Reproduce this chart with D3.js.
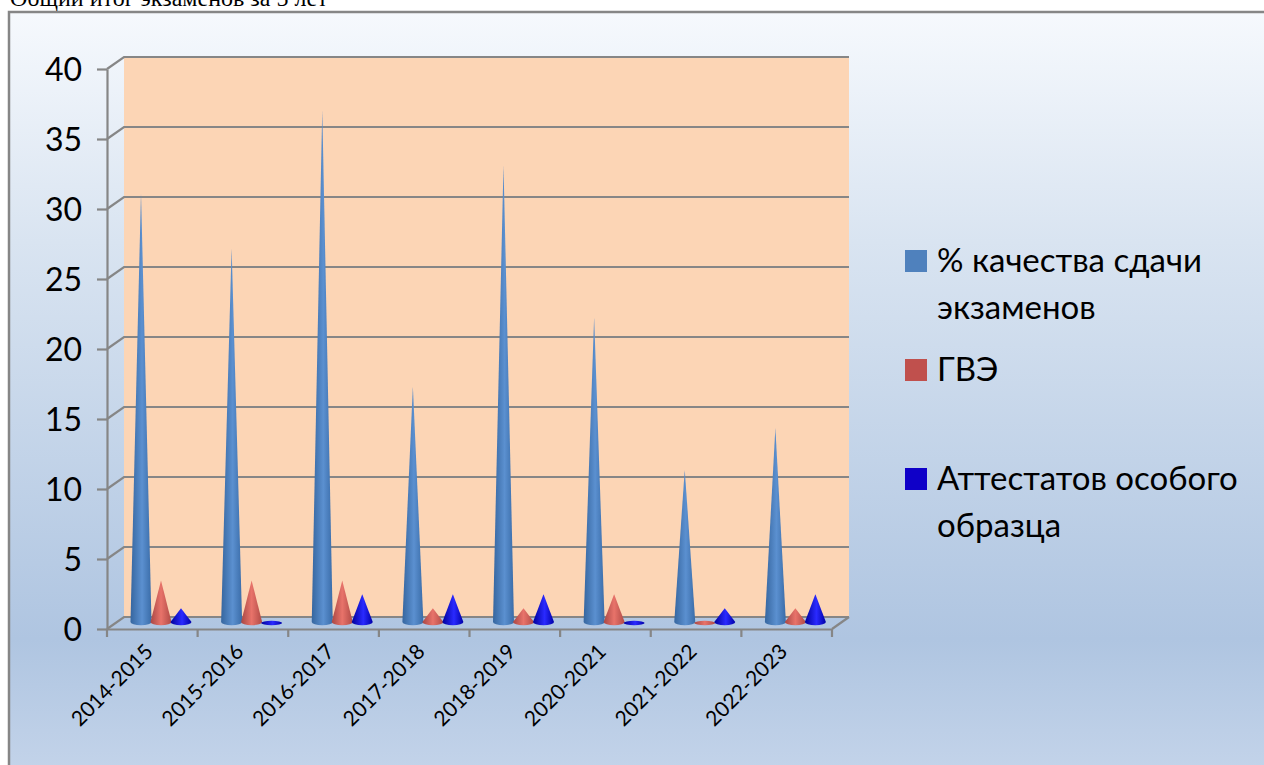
<!DOCTYPE html>
<html>
<head>
<meta charset="utf-8">
<script src="https://cdn.jsdelivr.net/npm/d3@7"></script>
<style>
	html, body { margin: 0; padding: 0; background: #fff; overflow: hidden; }
	.label { font-family: Lato, "Open Sans", sans-serif; fill: #000; }
</style>
</head>
<body>
<div id="root"></div>
<script>
const years = ["2014-2015", "2015-2016", "2016-2017", "2017-2018", "2018-2019", "2020-2021", "2021-2022", "2022-2023"];
const seriesNames = ["quality", "gve", "cert"];
const quality = [31, 27, 37, 17, 33, 22, 11, 14];
const gve = [3, 3, 3, 1, 1, 2, 0, 1];
const cert = [1, 0, 2, 2, 2, 0, 1, 2];
const legendLabels = [["% качества сдачи", "экзаменов"], ["ГВЭ"], ["Аттестатов особого", "образца"]];
const legendColors = ["#4f81bd", "#c0504d", "#0f00c8"];
const valueTicks = [0, 5, 10, 15, 20, 25, 30, 35, 40];
const titleText = "Общий итог экзаменов за 5 лет";

const width = 1264, height = 765;
const depthX = 17, depthY = 12;

const svg = d3.select("#root").append("svg")
	.attr("width", width)
	.attr("height", height);

const defs = svg.append("defs");

const addGradient = (id, vertical, stops) => {
	const g = defs.append("linearGradient")
		.attr("id", id)
		.attr("x1", 0).attr("y1", 0)
		.attr("x2", vertical ? 0 : 1).attr("y2", vertical ? 1 : 0);
	stops.forEach(s => g.append("stop").attr("offset", s[0]).attr("stop-color", s[1]));
};

addGradient("bg", true, [[0, "#f6f9fd"], [0.3, "#d9e4f1"], [0.82, "#afc5e1"], [1, "#c4d4ea"]]);
addGradient("cone-quality", false, [[0, "#36669f"], [0.55, "#5b90d0"], [1, "#3a6ca8"]]);
addGradient("cone-gve", false, [[0, "#a84744"], [0.5, "#e8736a"], [1, "#b04a46"]]);
addGradient("cone-cert", false, [[0, "#00009a"], [0.55, "#2a2aff"], [1, "#0000a8"]]);

const x = d3.scaleBand().domain(years).range([107, 832]);
const xInner = d3.scaleBand().domain(seriesNames).range([24, 84]);
const y = d3.scaleLinear().domain([0, 40]).range([629, 69]);
const yCone = d3.scaleLinear().domain([0, 40]).range([622, 68]);

// chart frame
svg.append("rect")
	.attr("x", 9).attr("y", 12)
	.attr("width", width).attr("height", height)
	.attr("fill", "url(#bg)")
	.attr("stroke", "#868686")
	.attr("stroke-width", 2.5);

svg.append("text")
	.attr("x", 10).attr("y", 6)
	.attr("font-family", "Liberation Serif")
	.attr("font-size", 24)
	.text(titleText);

// back wall
svg.append("rect")
	.attr("x", 107 + depthX).attr("y", y(40) - depthY)
	.attr("width", 832 - 107)
	.attr("height", y(0) - y(40))
	.attr("fill", "#fcd5b5");

// gridlines on wall and side
const grid = svg.append("g")
	.attr("fill", "none")
	.attr("stroke", "#868686")
	.attr("stroke-width", 2.2);

grid.selectAll("path")
	.data(valueTicks)
	.enter()
	.append("path")
		.attr("d", d => `M${x.range()[0]},${y(d)}L${x.range()[0] + depthX},${y(d) - depthY}H${x.range()[1] + depthX}`);

grid.append("path")
	.attr("d", `M${x.range()[1]},${y(0)}L${x.range()[1] + depthX},${y(0) - depthY}`);

// axes
const yAxis = svg.append("g")
	.attr("transform", "translate(107,0)")
	.call(d3.axisLeft(y).tickValues(valueTicks).tickSize(10).tickSizeOuter(0).tickPadding(15));

const xAxis = svg.append("g")
	.attr("transform", `translate(0,${y(0)})`)
	.call(d3.axisBottom(x).tickSize(0).tickFormat(""));

xAxis.selectAll(".tick").remove();

xAxis.selectAll(".edge")
	.data(years.concat("end"))
	.enter()
	.append("line")
		.attr("class", "edge")
		.attr("x1", (d, i) => x.range()[0] + i * x.step())
		.attr("x2", (d, i) => x.range()[0] + i * x.step())
		.attr("y1", 0)
		.attr("y2", 8);

svg.selectAll(".domain, .tick line, .edge")
	.attr("stroke", "#868686")
	.attr("stroke-width", 2.2);

yAxis.selectAll("text")
	.attr("class", "label")
	.attr("font-size", 32)
	.attr("dy", "0.36em");

// category labels
svg.selectAll(".year")
	.data(years)
	.enter()
	.append("text")
		.attr("class", "label year")
		.attr("font-size", 21)
		.attr("text-anchor", "end")
		.attr("transform", d => `translate(${x(d) + x.bandwidth() / 2 + 2},${y(0) + 24}) rotate(-45)`)
		.text(d => d);

// cones
const conePath = (cx, value) => {
	const r = 10.5, ry = 3.2;
	const base = yCone(0);
	return `M${cx - r},${base}L${cx},${yCone(value)}L${cx + r},${base}A${r},${ry} 0 0 1 ${cx - r},${base}Z`;
};

const seriesValues = [quality, gve, cert];

seriesNames.forEach((name, s) => {
	const data = years.map((year, i) => ({ year, value: seriesValues[s][i] }));
	const cx = d => x(d.year) + xInner(name) + xInner.bandwidth() / 2;

	svg.selectAll(`.cone-${name}`)
		.data(data.filter(d => d.value > 0))
		.enter()
		.append("path")
			.attr("class", `cone-${name}`)
			.attr("fill", `url(#cone-${name})`)
			.attr("d", d => conePath(cx(d), d.value));

	svg.selectAll(`.flat-${name}`)
		.data(data.filter(d => d.value === 0))
		.enter()
		.append("ellipse")
			.attr("class", `flat-${name}`)
			.attr("cx", cx)
			.attr("cy", yCone(0) + 1)
			.attr("rx", 10.5)
			.attr("ry", 2.2)
			.attr("fill", `url(#cone-${name})`);
});

// legend
const legendRows = [250, 359, 468];

const legend = svg.selectAll(".legend")
	.data(legendLabels)
	.enter()
	.append("g")
		.attr("class", "legend")
		.attr("transform", (d, i) => `translate(905,${legendRows[i]})`);

legend.append("rect")
	.attr("width", 22)
	.attr("height", 22)
	.attr("fill", (d, i) => legendColors[i]);

legend.selectAll("text")
	.data(d => d)
	.enter()
	.append("text")
		.attr("class", "label")
		.attr("font-size", 33)
		.attr("x", 32)
		.attr("y", (d, i) => 22 + i * 47)
		.text(d => d);
</script>
</body>
</html>
